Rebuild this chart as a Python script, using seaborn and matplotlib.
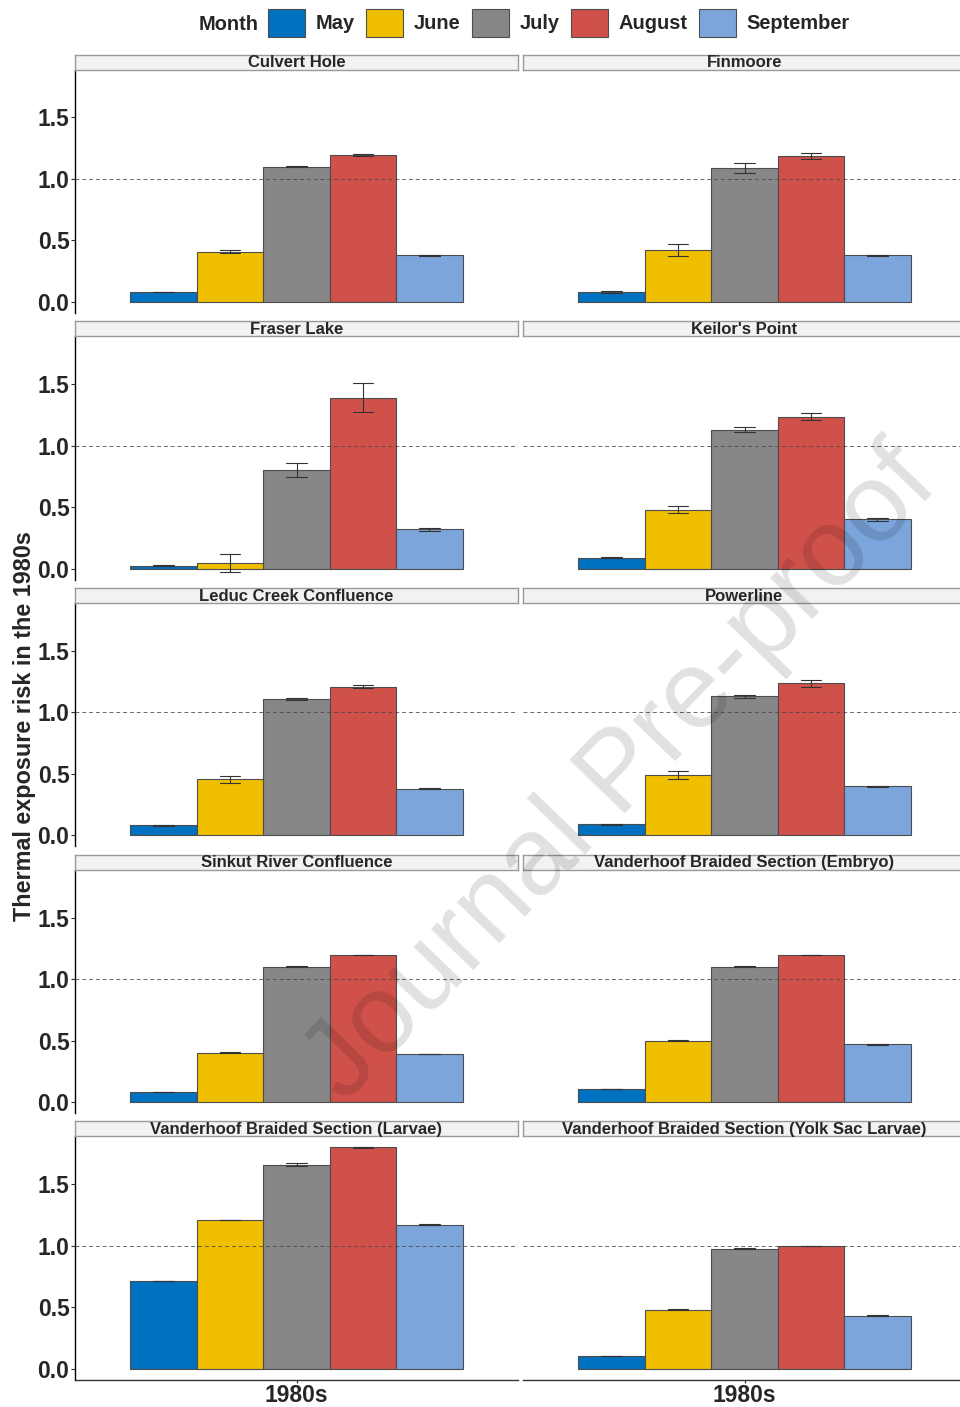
import pandas as pd
import matplotlib.pyplot as plt
import seaborn as sns

# Values (one per site, in site order)
sites = ["Culvert Hole", "Finmoore", "Fraser Lake", "Keilor's Point",
         "Leduc Creek Confluence", "Powerline", "Sinkut River Confluence",
         "Vanderhoof Braided Section (Embryo)", "Vanderhoof Braided Section (Larvae)",
         "Vanderhoof Braided Section (Yolk Sac Larvae)"]
months = ["May", "June", "July", "August", "September"]
colors = ["#0070C0", "#F0C000", "#878787", "#CF514A", "#7BA5DB"]

may_vals = [0.08, 0.08, 0.025, 0.09, 0.08, 0.09, 0.08, 0.11, 0.71, 0.10]
june_vals = [0.41, 0.42, 0.045, 0.48, 0.455, 0.49, 0.40, 0.50, 1.21, 0.48]
july_vals = [1.10, 1.09, 0.80, 1.13, 1.11, 1.13, 1.10, 1.10, 1.66, 0.975]
aug_vals = [1.195, 1.19, 1.39, 1.235, 1.21, 1.235, 1.195, 1.195, 1.80, 1.00]
sep_vals = [0.38, 0.38, 0.32, 0.40, 0.38, 0.40, 0.39, 0.47, 1.17, 0.43]

may_err = [0.0, 0.01, 0.005, 0.005, 0.005, 0.005, 0.0, 0.0, 0.0, 0.0]
june_err = [0.01, 0.05, 0.07, 0.03, 0.03, 0.03, 0.003, 0.003, 0.003, 0.003]
july_err = [0.005, 0.04, 0.055, 0.02, 0.01, 0.01, 0.003, 0.003, 0.01, 0.003]
aug_err = [0.005, 0.025, 0.12, 0.03, 0.01, 0.025, 0.003, 0.003, 0.005, 0.0]
sep_err = [0.005, 0.005, 0.01, 0.01, 0.005, 0.005, 0.003, 0.003, 0.003, 0.003]

period = "1980s"

# long table: two rows per bar (value -/+ error) so the min/max gives the error bar
rows = []
vals = [may_vals, june_vals, july_vals, aug_vals, sep_vals]
errs = [may_err, june_err, july_err, aug_err, sep_err]
for m, v, e in zip(months, vals, errs):
    for i, s in enumerate(sites):
        rows.append({"Site": s, "Period": period, "Month": m, "risk": v[i] - e[i]})
        rows.append({"Site": s, "Period": period, "Month": m, "risk": v[i] + e[i]})
df = pd.DataFrame(rows)

sns.set_style("white")
plt.rcParams["font.family"] = ["Liberation Sans", "DejaVu Sans"]

W, H = 960, 1407
fig = plt.figure(figsize=(W / 100, H / 100), dpi=100)


def box(x0, y0, w, h):
    return [x0 / W, 1 - (y0 + h) / H, w / W, h / H]


col_x = [75, 523]
panel_w = 443
panel_h = 243.5
row_step = 266.7
top0 = 69.5

handles = labels = None
for i, s in enumerate(sites):
    r, c = divmod(i, 2)
    top = top0 + row_step * r
    ax = fig.add_axes(box(col_x[c], top, panel_w, panel_h))
    sns.barplot(
        data=df[df["Site"] == s], x="Period", y="risk", hue="Month",
        hue_order=months, palette=dict(zip(months, colors)), saturation=1,
        estimator="mean", errorbar=lambda x: (x.min(), x.max()),
        width=0.9, gap=0, capsize=0.28, edgecolor="#4d4d4d", linewidth=0.8,
        err_kws={"color": "#333333", "linewidth": 0.8},
        legend=(i == 0), ax=ax,
    )
    if i == 0:
        handles, labels = ax.get_legend_handles_labels()
        ax.legend_.remove()
    ax.axhline(1.0, color="#444444", lw=0.7, ls=(0, (4, 3)), alpha=0.8, zorder=5)
    ax.set_xlim(-0.6, 0.6)
    ax.set_ylim(-0.09, 1.89)
    ax.set_xlabel("")
    ax.set_ylabel("")
    for sp in ax.spines.values():
        sp.set_visible(False)
    if c == 0:
        ax.spines["left"].set_visible(True)
        ax.spines["left"].set_color("black")
        ax.spines["left"].set_linewidth(1.0)
        ax.set_yticks([0, 0.5, 1.0, 1.5])
        ax.set_yticklabels(["0.0", "0.5", "1.0", "1.5"], fontsize=16.5, fontweight="bold")
        ax.tick_params(axis="y", left=True, length=3, width=0.8, pad=1, color="#333333")
    else:
        ax.set_yticks([])
    if r == 4:
        ax.spines["bottom"].set_visible(True)
        ax.spines["bottom"].set_color("#333333")
        ax.spines["bottom"].set_linewidth(1.0)
        ax.set_xticks([0])
        ax.set_xticklabels([period], fontsize=16.5, fontweight="bold")
        ax.tick_params(axis="x", bottom=True, length=2, width=0.8, pad=1)
    else:
        ax.set_xticks([])

    # facet strip
    sax = fig.add_axes(box(col_x[c], top - 15, panel_w, 15))
    sax.set_facecolor("#F2F2F2")
    sax.set_xticks([])
    sax.set_yticks([])
    for sp in sax.spines.values():
        sp.set_color("#9a9a9a")
        sp.set_linewidth(1.0)
    sax.text(0.5, 0.45, s, ha="center", va="center", fontsize=12,
             fontweight="bold", color="#262626", transform=sax.transAxes)

# legend on top
fig.text(199 / W, 1 - 24 / H, "Month", ha="left", va="center",
         fontsize=14.4, fontweight="bold")
fig.legend(handles, labels, loc="center left", bbox_to_anchor=(268 / W, 1 - 23 / H),
           ncol=5, frameon=False, borderpad=0, borderaxespad=0,
           handlelength=1.85, handleheight=1.85, handletextpad=0.55,
           columnspacing=0.55, prop={"size": 14.4, "weight": "bold"})

fig.text(25 / W, 1 - 726 / H, "Thermal exposure risk in the 1980s", rotation=90,
         ha="center", va="center", fontsize=16.8, fontweight="bold")

# watermark
fig.text(622 / W, 1 - 775 / H, "Journal Pre-proof", rotation=46, ha="center",
         va="center", fontsize=80, color="black", alpha=0.12, zorder=20)

fig.savefig("out.png", dpi=100)
